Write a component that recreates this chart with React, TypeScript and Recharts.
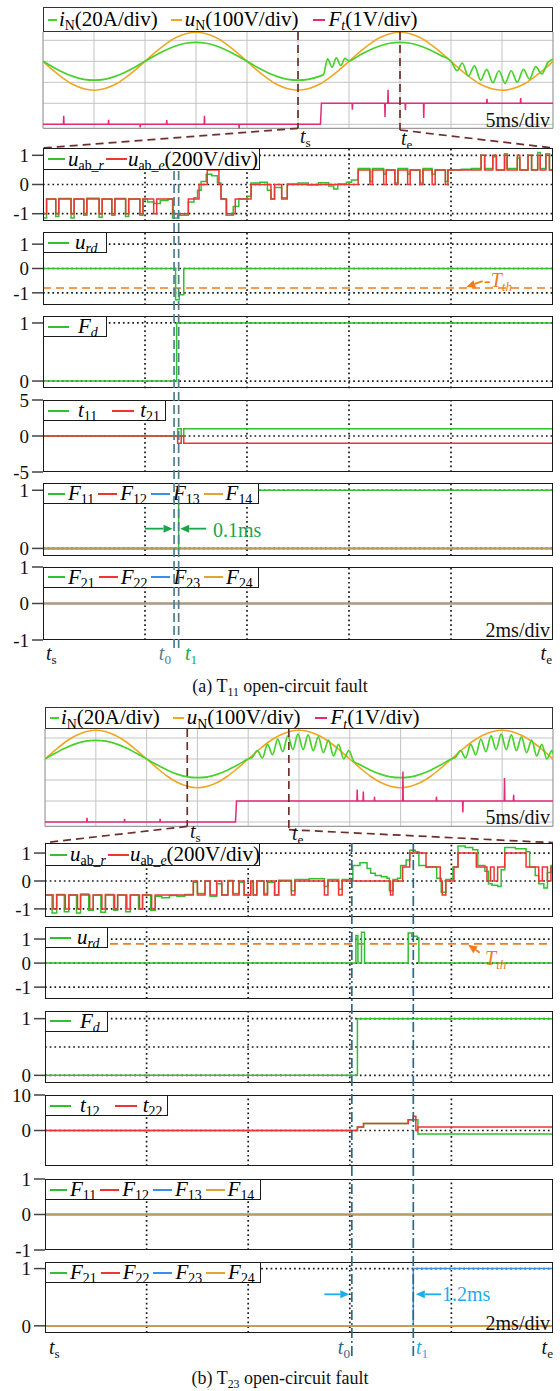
import React from 'react';
import { LineChart, Line, XAxis, YAxis, ReferenceLine } from 'recharts';

type Pt = [number, number];
const W = 560;
const H = 1391;
const RIGHT = 553;
const SERIF = '"Liberation Serif","Times New Roman",serif';

const S_GREEN = '#48d12c';
const S_ORANGE = '#f0a623';
const S_PINK = '#e62a78';
const G = '#30c030';
const R = '#f03434';
const B = '#3a90e8';
const GOLD = '#e0a430';
const BROWN = '#6e2f2a';
const TEAL_A = '#4f7f8e';
const TEAL_B = '#2b6b82';
const ORANGE_TH = '#f07c1c';
const ANN_GREEN = '#18a64a';
const ANN_CYAN = '#1badea';

// ================= (a) oscilloscope (ms, divisions) =================
const scopeA_uN: Pt[] = [[0,0],[1,-0.43],[2,-0.81],[3,-1.12],[4,-1.31],[5,-1.38],[6,-1.31],[7,-1.12],[8,-0.81],[9,-0.43],[10,0],[11,0.43],[12,0.81],[13,1.12],[14,1.31],[15,1.38],[16,1.31],[17,1.12],[18,0.81],[19,0.43],[20,0],[21,-0.43],[22,-0.81],[23,-1.12],[24,-1.31],[25,-1.38],[26,-1.31],[27,-1.12],[28,-0.81],[29,-0.43],[30,0],[31,0.43],[32,0.81],[33,1.12],[34,1.31],[35,1.38],[36,1.31],[37,1.12],[38,0.81],[39,0.43],[40,0],[41,-0.43],[42,-0.81],[43,-1.12],[44,-1.31],[45,-1.38],[46,-1.31],[47,-1.12],[48,-0.81],[49,-0.43],[50,0]];
const scopeA_iN: Pt[] = [[0,0],[1,-0.28],[2,-0.53],[3,-0.73],[4,-0.86],[5,-0.9],[6,-0.86],[7,-0.73],[8,-0.53],[9,-0.28],[10,0],[11,0.28],[12,0.53],[13,0.73],[14,0.86],[15,0.9],[16,0.86],[17,0.73],[18,0.53],[19,0.28],[20,0],[21,-0.28],[22,-0.53],[23,-0.73],[24,-0.86],[25,-0.9],[26,-0.86],[27,-0.73],[27.5,-0.63],[27.9,0.12],[28.35,-0.28],[28.75,0.16],[29.2,-0.2],[29.6,0.14],[30,0.02],[31,0.28],[32,0.53],[33,0.73],[34,0.86],[35,0.9],[36,0.86],[37,0.73],[38,0.53],[39,0.28],[40,0],[40.6,-0.45],[41.1,-0.08],[41.7,-0.7],[42.3,-0.22],[42.9,-0.9],[43.5,-0.38],[44.1,-1.02],[44.7,-0.45],[45.3,-1.05],[45.9,-0.45],[46.5,-1.0],[47.1,-0.38],[47.7,-0.85],[48.3,-0.25],[48.9,-0.6],[49.5,-0.05],[50,0.1]];
const scopeA_Ft: Pt[] = [[0,-3],[2.0,-3],[2.03,-2.6],[2.06,-3],[6.4,-3],[6.43,-2.78],[6.46,-3],[9.5,-3],[9.53,-3.15],[9.56,-3],[12.1,-3],[12.13,-2.8],[12.16,-3],[15.8,-3],[15.83,-2.6],[15.86,-3],[19.2,-3],[19.23,-3.2],[19.26,-3],[27.2,-3],[27.3,-2],[30.3,-2],[30.33,-2.3],[30.36,-2],[33.5,-2],[33.53,-2.65],[33.56,-2],[33.8,-2],[33.83,-1.35],[33.86,-2],[35.5,-2],[35.53,-2.33],[35.56,-2],[37.3,-2],[37.33,-2.7],[37.36,-2],[43.5,-2],[43.53,-1.78],[43.56,-2],[46.8,-2],[46.83,-1.75],[46.86,-2],[50,-2]];
const scopeA_win: Pt = [25, 35];

// ================= (a) detail panels (ms after ts, p.u.) =================
const uabR_a: Pt[] = [[0,-1.15],[0.07,-0.5],[0.25,-1.1],[0.31,-0.48],[0.55,-1.15],[0.61,-0.5],[0.8,-1.05],[0.86,-0.47],[1.1,-1.12],[1.16,-0.5],[1.35,-1.05],[1.41,-0.48],[1.62,-1.1],[1.68,-0.5],[1.9,-1.05],[1.96,-0.5],[2.05,-0.6],[2.17,-0.65],[2.3,-0.55],[2.45,-0.5],[2.54,-1.15],[2.64,-1.05],[2.85,-0.6],[2.96,-0.45],[3.03,-0.2],[3.1,0.1],[3.2,0.35],[3.31,0.3],[3.42,0.05],[3.49,-0.5],[3.59,-1.05],[3.73,-0.75],[3.84,-0.5],[4.01,-0.4],[4.08,0.05],[4.25,0.08],[4.4,-0.2],[4.47,-0.5],[4.54,-0.1],[4.68,-0.45],[4.79,0.02],[5.0,0.05],[5.2,-0.02],[5.4,0.06],[5.6,-0.05],[5.7,-0.15],[5.78,0.02],[5.95,0.08],[6.05,0.15],[6.18,0.55],[6.41,0.1],[6.46,0.55],[6.68,0.35],[6.73,0.5],[6.9,0.05],[6.96,0.55],[7.15,0.35],[7.2,0.5],[7.39,0.05],[7.45,0.55],[7.63,0.35],[7.69,0.5],[7.89,0.1],[7.94,0.5],[8.2,0.52],[8.4,0.55],[8.59,1.0],[8.66,0.55],[8.82,0.95],[8.89,0.5],[9.05,1.05],[9.1,0.55],[9.3,0.9],[9.35,0.5],[9.51,1.0],[9.58,0.5],[9.7,1.1],[9.75,0.55],[9.86,1.05],[9.93,0.5],[10,0.5]];
const uabE_a: Pt[] = [[0,-1],[0.07,-0.5],[0.25,-1],[0.31,-0.5],[0.55,-1],[0.61,-0.5],[0.8,-1],[0.86,-0.5],[1.1,-1],[1.16,-0.5],[1.35,-1],[1.41,-0.5],[1.62,-1],[1.68,-0.5],[1.9,-1],[1.96,-0.5],[2.17,-1],[2.23,-0.5],[2.55,-1],[2.85,-0.5],[3.06,0],[3.22,0.5],[3.45,0],[3.49,-0.5],[3.6,-1],[3.77,-0.5],[4.08,0],[4.47,-0.5],[4.54,0],[4.68,-0.5],[4.79,0],[6.18,0.5],[6.41,0],[6.46,0.5],[6.68,0],[6.73,0.5],[6.9,0],[6.96,0.5],[7.15,0],[7.2,0.5],[7.39,0],[7.45,0.5],[7.63,0],[7.69,0.5],[7.89,0],[7.94,0.5],[8.59,1],[8.66,0.5],[8.82,1],[8.89,0.5],[9.05,1],[9.1,0.5],[9.3,1],[9.35,0.5],[9.51,1],[9.58,0.5],[9.7,1],[9.75,0.5],[9.86,1],[9.93,0.5],[10,0.5]];
const urd_a: Pt[] = [[0,0],[2.6,-1.28],[2.67,-1.08],[2.76,0],[10,0]];
const Tth_a = -0.8;
const Fd_a: Pt[] = [[0,0],[2.62,1],[10,1]];
const t11_a: Pt[] = [[0,0],[2.64,1],[2.71,0],[2.76,1],[10,1]];
const t21_a: Pt[] = [[0,0],[2.64,-1],[2.71,0],[2.76,-1],[10,-1]];
const F11_a: Pt[] = [[0,0],[2.66,1],[10,1]];
const ZERO: Pt[] = [[0,0],[10,0]];
const t0_a = 2.57;
const t1_a = 2.66;

// ================= (b) oscilloscope =================
const scopeB_uN: Pt[] = [[0,0],[1,0.42],[2,0.81],[3,1.11],[4,1.3],[5,1.37],[6,1.3],[7,1.11],[8,0.81],[9,0.42],[10,0],[11,-0.42],[12,-0.81],[13,-1.11],[14,-1.3],[15,-1.37],[16,-1.3],[17,-1.11],[18,-0.81],[19,-0.42],[20,0],[21,0.42],[22,0.81],[23,1.11],[24,1.3],[25,1.37],[26,1.3],[27,1.11],[28,0.81],[29,0.42],[30,0],[31,-0.42],[32,-0.81],[33,-1.11],[34,-1.3],[35,-1.37],[36,-1.3],[37,-1.11],[38,-0.81],[39,-0.42],[40,0],[41,0.42],[42,0.81],[43,1.11],[44,1.3],[45,1.37],[46,1.3],[47,1.11],[48,0.81],[49,0.42],[50,0]];
const scopeB_iN: Pt[] = [[0,0],[1,0.27],[2,0.52],[3,0.72],[4,0.85],[5,0.89],[6,0.85],[7,0.72],[8,0.52],[9,0.27],[10,0],[11,-0.27],[12,-0.52],[13,-0.72],[14,-0.85],[15,-0.89],[16,-0.85],[17,-0.72],[18,-0.52],[19,-0.27],[20,0],[20.4,0.08],[20.9,0.4],[21.4,0.05],[21.9,0.7],[22.4,0.2],[22.9,0.95],[23.4,0.35],[23.9,1.1],[24.4,0.45],[24.9,1.18],[25.4,0.45],[25.9,1.15],[26.4,0.4],[26.9,1.05],[27.4,0.3],[27.9,0.9],[28.4,0.15],[28.9,0.7],[29.4,0.0],[29.9,0.4],[30.4,-0.12],[31,-0.27],[32,-0.52],[33,-0.72],[34,-0.85],[35,-0.89],[36,-0.85],[37,-0.72],[38,-0.52],[39,-0.27],[40,0],[40.4,0.08],[40.9,0.4],[41.4,0.05],[41.9,0.7],[42.4,0.2],[42.9,0.95],[43.4,0.35],[43.9,1.1],[44.4,0.45],[44.9,1.18],[45.4,0.45],[45.9,1.15],[46.4,0.4],[46.9,1.05],[47.4,0.3],[47.9,0.9],[48.4,0.15],[48.9,0.7],[49.4,0.0],[49.9,0.4],[50,0.25]];
const scopeB_Ft: Pt[] = [[0,-3],[4.1,-3],[4.13,-2.8],[4.16,-3],[7.8,-3],[7.83,-2.85],[7.86,-3],[11.3,-3],[11.33,-2.85],[11.36,-3],[18.75,-3],[18.85,-2],[30.7,-2],[30.73,-1.45],[30.76,-2],[31.3,-2],[31.33,-1.55],[31.36,-2],[32.4,-2],[32.43,-1.8],[32.46,-2],[35.2,-2],[35.23,-0.6],[35.26,-2],[38.5,-2],[38.53,-1.8],[38.56,-2],[41.1,-2],[41.13,-2.55],[41.16,-2],[45.2,-2],[45.23,-0.9],[45.26,-2],[46.1,-2],[46.13,-1.7],[46.16,-2],[50,-2]];
const scopeB_win: Pt = [14, 24];

// ================= (b) detail panels =================
const uabR_b: Pt[] = [[0,-0.5],[0.14,-1.15],[0.23,-0.48],[0.38,-1.1],[0.47,-0.5],[0.62,-1.15],[0.7,-0.47],[0.86,-1.05],[0.95,-0.5],[1.1,-1.12],[1.19,-0.48],[1.35,-1.05],[1.43,-0.5],[1.59,-1.1],[1.68,-0.5],[1.84,-1.0],[1.92,-0.5],[2.08,-1.05],[2.17,-0.55],[2.3,-0.6],[2.45,-0.52],[2.6,-0.55],[2.75,-0.48],[2.92,-0.05],[3.0,-0.45],[3.15,0.0],[3.25,-0.55],[3.38,-0.1],[3.48,-0.5],[3.6,0.02],[3.7,-0.45],[3.82,-0.05],[3.92,-0.5],[4.05,-0.05],[4.1,-0.5],[4.17,0.0],[4.31,-0.45],[4.38,-0.05],[4.52,-0.5],[4.6,0.03],[4.85,-0.35],[4.92,0.05],[5.2,0.08],[5.5,-0.2],[5.57,0.05],[5.78,-0.3],[5.85,0.05],[6.06,0.55],[6.2,0.65],[6.34,0.45],[6.41,0.28],[6.5,0.2],[6.62,0.15],[6.73,0.1],[6.78,-0.35],[6.85,0.05],[6.94,0.1],[7.0,0.55],[7.11,0.75],[7.18,1.1],[7.29,1.05],[7.36,0.55],[7.5,0.5],[7.71,0.1],[7.8,-0.4],[7.89,0.05],[8.03,0.5],[8.13,1.25],[8.27,1.2],[8.42,1.12],[8.52,0.55],[8.66,0.35],[8.73,-0.1],[8.8,-0.15],[8.91,-0.2],[8.98,0.4],[9.05,1.2],[9.26,1.15],[9.47,1.05],[9.54,0.5],[9.65,0.2],[9.72,-0.1],[9.82,-0.25],[9.89,0.3],[9.96,0.55],[10,0.55]];
const uabE_b: Pt[] = [[0,-0.5],[0.16,-1],[0.23,-0.5],[0.4,-1],[0.47,-0.5],[0.64,-1],[0.7,-0.5],[0.88,-1],[0.95,-0.5],[1.12,-1],[1.19,-0.5],[1.37,-1],[1.43,-0.5],[1.61,-1],[1.68,-0.5],[1.86,-1],[1.92,-0.5],[2.1,-1],[2.17,-0.5],[2.92,0],[3.0,-0.5],[3.15,0],[3.25,-0.5],[3.38,0],[3.48,-0.5],[3.6,0],[3.7,-0.5],[3.82,0],[3.92,-0.5],[4.05,0],[4.1,-0.5],[4.17,0],[4.31,-0.5],[4.38,0],[4.52,-0.5],[4.6,0],[4.85,-0.5],[4.92,0],[5.5,-0.5],[5.57,0],[5.78,-0.5],[5.85,0],[6.8,-0.5],[6.85,0],[7.04,0.5],[7.18,1],[7.5,0.5],[7.78,0],[7.82,-0.5],[7.89,0],[8.05,0.5],[8.13,1],[8.49,0.5],[8.7,0],[8.77,0.5],[8.84,0],[8.91,0.5],[9.05,1],[9.47,0.5],[9.72,0],[9.79,0.5],[9.89,0],[9.96,0.5],[10,0.5]];
const urd_b: Pt[] = [[0,0],[6.12,1.15],[6.16,0],[6.23,1.28],[6.29,0],[7.15,1.25],[7.22,1.12],[7.33,1.05],[7.36,0],[10,0]];
const Tth_b = 0.8;
const Fd_b: Pt[] = [[0,0],[6.15,1],[10,1]];
const t12_b: Pt[] = [[0,0],[6.15,1],[6.27,2],[7.15,3],[7.34,-1],[10,-1]];
const t22_b: Pt[] = [[0,0],[6.15,1],[6.27,2],[7.15,3],[7.25,4],[7.3,0],[7.34,1],[10,1]];
const F23_b: Pt[] = [[0,0],[7.25,1],[10,1]];
const t0_b = 6.04;
const t1_b = 7.25;

const toData = (pts: Pt[]) => pts.map(([t, v]) => ({ t, v }));

// ---------------- small text helpers ----------------
const Sub = ({ children }: { children: React.ReactNode }) => (
  <span style={{ fontSize: '0.66em', position: 'relative', top: '0.3em', fontStyle: 'normal', lineHeight: 1 }}>{children}</span>
);
const Sw = ({ c, w, ml = 0, mr = 3 }: { c: string; w: number; ml?: number; mr?: number }) => (
  <svg width={w} height={6} style={{ flexShrink: 0, marginLeft: ml, marginRight: mr, display: 'block' }}>
    <line x1={0} y1={3} x2={w} y2={3} stroke={c} strokeWidth={2} />
  </svg>
);
const Txt = ({ x, y, children, color = '#111', size = 20, anchor = 'start' }: any) => {
  const tx = anchor === 'start' ? '0' : anchor === 'end' ? '-100%' : '-50%';
  return (
    <div style={{ position: 'absolute', left: x, top: y, transform: `translate(${tx},-50%)`, color, fontSize: size, fontFamily: SERIF, whiteSpace: 'nowrap', lineHeight: 1.1 }}>
      {children}
    </div>
  );
};

const arrowShape = (color: string) => (props: any) => {
  const { x1, y1, x2, y2 } = props;
  const ang = Math.atan2(y2 - y1, x2 - x1);
  const L = 9;
  const w = 4;
  const bx = x2 - L * Math.cos(ang);
  const by = y2 - L * Math.sin(ang);
  const px = -Math.sin(ang) * w;
  const py = Math.cos(ang) * w;
  return (
    <g>
      <line x1={x1} y1={y1} x2={bx} y2={by} stroke={color} strokeWidth={1.8} />
      <polygon points={`${x2},${y2} ${bx + px},${by + py} ${bx - px},${by - py}`} fill={color} />
    </g>
  );
};

const legendBoxStyle: React.CSSProperties = {
  position: 'absolute', border: '1.6px solid #1a1a1a', boxSizing: 'border-box', background: '#fff',
  display: 'flex', alignItems: 'center', paddingLeft: 3, fontFamily: SERIF, fontSize: 21,
  whiteSpace: 'nowrap', lineHeight: 1,
};

// ---------------- detail panel ----------------
interface Series { pts: Pt[]; color: string; width?: number; opacity?: number }
interface PanelProps {
  boxTop: number; boxBottom: number; left: number;
  domain: [number, number]; ticks: number[]; series: Series[]; hGrid: number[];
  extras?: React.ReactNode[]; legend: React.ReactNode; legendW: number; legendH: number;
}
const VGRID = [2, 4, 6, 8];
const M = 12;
const dotted = { stroke: '#1a1a1a', strokeWidth: 1.7, strokeDasharray: '1.7 3' };

function Panel(p: PanelProps) {
  const h = p.boxBottom - p.boxTop + 2 * M;
  return (
    <div style={{ position: 'absolute', left: 0, top: p.boxTop - M, width: W, height: h }}>
      <LineChart width={W} height={h} margin={{ top: M, bottom: M, left: 0, right: W - RIGHT }}>
        <XAxis type="number" dataKey="t" domain={[0, 10]} hide allowDataOverflow />
        <YAxis type="number" domain={p.domain} ticks={p.ticks} interval={0} width={p.left} axisLine={false}
          tickSize={11} tickMargin={3} tickLine={{ stroke: '#444', strokeWidth: 1.5 }}
          tick={{ fontFamily: SERIF, fontSize: 19, fill: '#111' }} allowDataOverflow />
        {VGRID.map((x) => <ReferenceLine key={'vx' + x} x={x} {...dotted} />)}
        {p.hGrid.map((y) => <ReferenceLine key={'hy' + y} y={y} {...dotted} />)}
        {p.extras}
        {p.series.map((s, i) => (
          <Line key={i} data={toData(s.pts)} dataKey="v" type="stepAfter" stroke={s.color}
            strokeWidth={s.width || 1.5} strokeOpacity={s.opacity ?? 1} dot={false} activeDot={false}
            isAnimationActive={false} />
        ))}
      </LineChart>
      <div style={{ position: 'absolute', left: p.left, top: M, width: RIGHT - p.left, height: p.boxBottom - p.boxTop, border: '1.6px solid #1a1a1a', boxSizing: 'border-box' }} />
      <div style={{ ...legendBoxStyle, left: p.left, top: M, width: p.legendW, height: p.legendH }}>
        {p.legend}
      </div>
    </div>
  );
}

// ---------------- oscilloscope ----------------
interface ScopeProps {
  legendTop: number; plotTop: number; panelTop: number; left: number; center: number;
  frameBottom: number; win: Pt; teEnd: number;
  iN: Pt[]; uN: Pt[]; Ft: Pt[];
}
const DIV = 21;
function Scope(p: ScopeProps) {
  const top = (p.center - p.plotTop) / DIV;
  const bot = (p.center - p.panelTop) / DIV;
  const fb = (p.center - p.frameBottom) / DIV;
  const teB = (p.center - p.teEnd) / DIV;
  const h = p.panelTop - p.plotTop;
  const grey = '#c4c4c4';
  const dash = { stroke: BROWN, strokeWidth: 1.7, strokeDasharray: '8 5' };
  const [ts, te] = p.win;
  return (
    <>
      <div style={{ position: 'absolute', left: 0, top: p.plotTop, width: W, height: h }}>
        <LineChart width={W} height={h} margin={{ top: 0, bottom: 0, left: p.left, right: W - RIGHT }}>
          <XAxis type="number" dataKey="t" domain={[0, 50]} hide allowDataOverflow />
          <YAxis type="number" domain={[bot, top]} hide allowDataOverflow />
          {[5, 10, 15, 20, 25, 30, 35, 40, 45].map((x) => (
            <ReferenceLine key={'gx' + x} segment={[{ x, y: top }, { x, y: fb }]} stroke={grey} strokeWidth={1} />
          ))}
          {[1, 0, -1, -2, -3].map((y) => <ReferenceLine key={'gy' + y} y={y} stroke={grey} strokeWidth={1} />)}
          <ReferenceLine segment={[{ x: 0, y: top }, { x: 0, y: fb }]} stroke="#9a9a9a" strokeWidth={1.2} />
          <ReferenceLine segment={[{ x: 50, y: top }, { x: 50, y: fb }]} stroke="#9a9a9a" strokeWidth={1.2} />
          <ReferenceLine segment={[{ x: 0, y: fb }, { x: 50, y: fb }]} stroke="#9a9a9a" strokeWidth={1.2} />
          <Line data={toData(p.uN)} dataKey="v" type="monotone" stroke={S_ORANGE} strokeWidth={1.6} dot={false} activeDot={false} isAnimationActive={false} />
          <Line data={toData(p.iN)} dataKey="v" type="monotone" stroke={S_GREEN} strokeWidth={1.7} dot={false} activeDot={false} isAnimationActive={false} />
          <Line data={toData(p.Ft)} dataKey="v" type="linear" stroke={S_PINK} strokeWidth={1.5} dot={false} activeDot={false} isAnimationActive={false} />
          <ReferenceLine segment={[{ x: ts, y: top }, { x: ts, y: fb }]} {...dash} />
          <ReferenceLine segment={[{ x: ts, y: fb }, { x: 0, y: bot }]} {...dash} />
          <ReferenceLine segment={[{ x: te, y: top }, { x: te, y: teB }]} {...dash} />
          <ReferenceLine segment={[{ x: te, y: teB }, { x: 50, y: bot }]} {...dash} />
        </LineChart>
      </div>
      <div style={{ ...legendBoxStyle, border: '1.4px solid #333', left: p.left, top: p.legendTop, width: RIGHT - p.left, height: p.plotTop - p.legendTop }}>
        <Sw c={S_GREEN} w={9} ml={1} mr={2} /><span><i>i</i><Sub>N</Sub>(20A/div)</span>
        <Sw c={S_ORANGE} w={11} ml={13} mr={3} /><span><i>u</i><Sub>N</Sub>(100V/div)</span>
        <Sw c={S_PINK} w={12} ml={14} mr={4} /><span><i>F</i><Sub><i>t</i></Sub>(1V/div)</span>
      </div>
    </>
  );
}

// ---------------- vertical dashed t0 / t1 lines across panels ----------------
function VLines({ top, bottom, left, lines }: { top: number; bottom: number; left: number; lines: { x: number; color: string; dash: string }[] }) {
  const h = bottom - top;
  return (
    <div style={{ position: 'absolute', left: 0, top, width: W, height: h, pointerEvents: 'none' }}>
      <LineChart width={W} height={h} margin={{ top: 0, bottom: 0, left, right: W - RIGHT }}>
        <XAxis type="number" dataKey="t" domain={[0, 10]} hide allowDataOverflow />
        <YAxis type="number" domain={[0, 1]} hide allowDataOverflow />
        <Line data={[{ t: 0, v: -1 }, { t: 10, v: -1 }]} dataKey="v" stroke="none" dot={false} activeDot={false} isAnimationActive={false} />
        {lines.map((l, i) => (
          <ReferenceLine key={i} x={l.x} stroke={l.color} strokeWidth={1.7} strokeDasharray={l.dash} />
        ))}
      </LineChart>
    </div>
  );
}

const F4Legend = ({ a, b, c, d }: { a: string; b: string; c: string; d: string }) => (
  <>
    <Sw c={G} w={17} ml={1} mr={3} /><span><i>F</i><Sub>{a}</Sub></span>
    <Sw c={R} w={19} ml={4} mr={3} /><span><i>F</i><Sub>{b}</Sub></span>
    <Sw c={B} w={19} ml={4} mr={3} /><span><i>F</i><Sub>{c}</Sub></span>
    <Sw c={GOLD} w={19} ml={4} mr={3} /><span><i>F</i><Sub>{d}</Sub></span>
  </>
);
const UabLegend = () => (
  <>
    <Sw c={G} w={17} ml={1} mr={3} /><span><i>u</i><Sub>ab_<i>r</i></Sub></span>
    <Sw c={R} w={21} ml={2} mr={1} /><span><i>u</i><Sub>ab_<i>e</i></Sub>(200V/div)</span>
  </>
);

const zeroF = (first: Pt[]): Series[] => [
  { pts: first, color: G },
  { pts: ZERO, color: R },
  { pts: ZERO, color: B },
  { pts: ZERO, color: GOLD, opacity: 0.75, width: 1.7 },
];

export default function App() {
  return (
    <div style={{ position: 'absolute', left: 0, top: 0, width: W, height: H, background: '#fff', overflow: 'hidden', fontFamily: SERIF }}>
      {/* ======================= (a) ======================= */}
      <Scope legendTop={7} plotTop={32} panelTop={148} left={43} center={61.3} frameBottom={128.3} win={scopeA_win} teEnd={130}
        iN={scopeA_iN} uN={scopeA_uN} Ft={scopeA_Ft} />
      <Txt x={550} y={120} anchor="end" size={20}>5ms/div</Txt>
      <Txt x={300} y={136} size={20}><i>t</i><Sub>s</Sub></Txt>
      <Txt x={401} y={138} size={20}><i>t</i><Sub>e</Sub></Txt>

      <Panel boxTop={148} boxBottom={221} left={43} domain={[-1.25, 1.25]} ticks={[-1, 0, 1]} hGrid={[1, 0, -1]}
        series={[{ pts: uabR_a, color: G }, { pts: uabE_a, color: R }]} legendW={217} legendH={22}
        legend={<UabLegend />} />
      <Panel boxTop={232} boxBottom={305} left={43} domain={[-1.5, 1.5]} ticks={[-1, 0, 1]} hGrid={[1, 0, -1]}
        series={[{ pts: urd_a, color: G }]} legendW={64} legendH={21}
        extras={[
          <ReferenceLine key="th" y={Tth_a} stroke={ORANGE_TH} strokeWidth={1.6} strokeDasharray="8 5" />,
          <ReferenceLine key="tha" segment={[{ x: 8.62, y: -0.52 }, { x: 8.3, y: -0.76 }]} shape={arrowShape(ORANGE_TH)} />,
        ]}
        legend={<><Sw c={G} w={21} ml={1} mr={6} /><span><i>u</i><Sub><i>rd</i></Sub></span></>} />
      <Txt x={484} y={280} color={ORANGE_TH} size={20}><i>-T</i><Sub><i>th</i></Sub></Txt>
      <Panel boxTop={316} boxBottom={388.3} left={43} domain={[-0.125, 1.12]} ticks={[0, 1]} hGrid={[1, 0]}
        series={[{ pts: Fd_a, color: G }]} legendW={64} legendH={21}
        legend={<><Sw c={G} w={21} ml={1} mr={9} /><span><i>F</i><Sub><i>d</i></Sub></span></>} />
      <Panel boxTop={400} boxBottom={472} left={43} domain={[-5, 5]} ticks={[-5, 0, 5]} hGrid={[0]}
        series={[{ pts: t11_a, color: G }, { pts: t21_a, color: R }]} legendW={123} legendH={21}
        legend={<><Sw c={G} w={21} ml={1} mr={9} /><span><i>t</i><Sub>11</Sub></span><Sw c={R} w={22} ml={15} mr={6} /><span><i>t</i><Sub>21</Sub></span></>} />
      <Panel boxTop={483.3} boxBottom={556} left={43} domain={[-0.125, 1.125]} ticks={[0, 1]} hGrid={[1, 0]}
        series={zeroF(F11_a)} legendW={216} legendH={21}
        extras={[
          <ReferenceLine key="a1" segment={[{ x: 2.0, y: 0.34 }, { x: t0_a - 0.03, y: 0.34 }]} shape={arrowShape(ANN_GREEN)} />,
          <ReferenceLine key="a2" segment={[{ x: 3.2, y: 0.34 }, { x: t1_a + 0.03, y: 0.34 }]} shape={arrowShape(ANN_GREEN)} />,
        ]}
        legend={<F4Legend a="11" b="12" c="13" d="14" />} />
      <Txt x={213} y={530} color={ANN_GREEN} size={20}>0.1ms</Txt>
      <Panel boxTop={566.5} boxBottom={639.5} left={43} domain={[-1, 1]} ticks={[-1, 0, 1]} hGrid={[]}
        series={zeroF(ZERO)} legendW={216} legendH={21}
        legend={<F4Legend a="21" b="22" c="23" d="24" />} />
      <Txt x={550} y={630} anchor="end" size={20}>2ms/div</Txt>

      <VLines top={170} bottom={648} left={43} lines={[
        { x: t0_a, color: TEAL_A, dash: '9 4' },
        { x: t1_a, color: TEAL_A, dash: '9 4' },
      ]} />
      <Txt x={46} y={653} size={20}><i>t</i><Sub>s</Sub></Txt>
      <Txt x={171} y={653} anchor="end" size={20} color={TEAL_A}><i>t</i><Sub>0</Sub></Txt>
      <Txt x={185} y={653} size={20} color={ANN_GREEN}><i>t</i><Sub>1</Sub></Txt>
      <Txt x={552} y={653} anchor="end" size={20}><i>t</i><Sub>e</Sub></Txt>
      <Txt x={280} y={687} anchor="middle" size={18}>(a) T<Sub>11</Sub> open-circuit fault</Txt>

      {/* ======================= (b) ======================= */}
      <Scope legendTop={706.7} plotTop={729.3} panelTop={843} left={45} center={759.3} frameBottom={826.7} win={scopeB_win} teEnd={830}
        iN={scopeB_iN} uN={scopeB_uN} Ft={scopeB_Ft} />
      <Txt x={550} y={817} anchor="end" size={20}>5ms/div</Txt>
      <Txt x={190} y={831} size={20}><i>t</i><Sub>s</Sub></Txt>
      <Txt x={292} y={833} size={20}><i>t</i><Sub>e</Sub></Txt>

      <Panel boxTop={843} boxBottom={917} left={45} domain={[-1.29, 1.36]} ticks={[-1, 0, 1]} hGrid={[1, 0, -1]}
        series={[{ pts: uabR_b, color: G }, { pts: uabE_b, color: R }]} legendW={215} legendH={23}
        legend={<UabLegend />} />
      <Panel boxTop={927.3} boxBottom={999} left={45} domain={[-1.48, 1.5]} ticks={[-1, 0, 1]} hGrid={[1, 0, -1]}
        series={[{ pts: urd_b, color: G }]} legendW={63} legendH={21}
        extras={[
          <ReferenceLine key="th" y={Tth_b} stroke={ORANGE_TH} strokeWidth={1.6} strokeDasharray="8 5" />,
          <ReferenceLine key="tha" segment={[{ x: 8.56, y: 0.43 }, { x: 8.33, y: 0.76 }]} shape={arrowShape(ORANGE_TH)} />,
        ]}
        legend={<><Sw c={G} w={21} ml={1} mr={6} /><span><i>u</i><Sub><i>rd</i></Sub></span></>} />
      <Txt x={485} y={958} color={ORANGE_TH} size={20}><i>T</i><Sub><i>th</i></Sub></Txt>
      <Panel boxTop={1010.7} boxBottom={1082.7} left={45} domain={[-0.135, 1.135]} ticks={[0, 1]} hGrid={[1, 0.5, 0]}
        series={[{ pts: Fd_b, color: G }]} legendW={63} legendH={21}
        legend={<><Sw c={G} w={21} ml={1} mr={9} /><span><i>F</i><Sub><i>d</i></Sub></span></>} />
      <Panel boxTop={1095} boxBottom={1166} left={45} domain={[-10, 10]} ticks={[0, 10]} hGrid={[0]}
        series={[{ pts: t12_b, color: G }, { pts: t22_b, color: R }]} legendW={123} legendH={21}
        legend={<><Sw c={G} w={21} ml={1} mr={9} /><span><i>t</i><Sub>12</Sub></span><Sw c={R} w={22} ml={15} mr={6} /><span><i>t</i><Sub>22</Sub></span></>} />
      <Panel boxTop={1179} boxBottom={1250} left={45} domain={[-1, 1]} ticks={[-1, 0, 1]} hGrid={[]}
        series={zeroF(ZERO)} legendW={216} legendH={21}
        legend={<F4Legend a="11" b="12" c="13" d="14" />} />
      <Panel boxTop={1262} boxBottom={1332.7} left={45} domain={[-0.12, 1.115]} ticks={[0, 1]} hGrid={[1]}
        series={[{ pts: ZERO, color: G }, { pts: ZERO, color: R }, { pts: F23_b, color: B }, { pts: ZERO, color: GOLD, opacity: 0.85, width: 1.7 }]}
        legendW={216} legendH={21}
        extras={[
          <ReferenceLine key="b1" segment={[{ x: 5.5, y: 0.55 }, { x: t0_b - 0.05, y: 0.55 }]} shape={arrowShape(ANN_CYAN)} />,
          <ReferenceLine key="b2" segment={[{ x: 7.8, y: 0.55 }, { x: t1_b + 0.05, y: 0.55 }]} shape={arrowShape(ANN_CYAN)} />,
        ]}
        legend={<F4Legend a="21" b="22" c="23" d="24" />} />
      <Txt x={442} y={1294} color={ANN_CYAN} size={20}>1.2ms</Txt>
      <Txt x={550} y={1323} anchor="end" size={20}>2ms/div</Txt>

      <VLines top={843} bottom={1356} left={45} lines={[
        { x: t0_b, color: TEAL_B, dash: '10 3 2 3' },
        { x: t1_b, color: TEAL_B, dash: '10 3 2 3' },
      ]} />
      <Txt x={49} y={1347} size={20}><i>t</i><Sub>s</Sub></Txt>
      <Txt x={350} y={1347} anchor="end" size={20} color={TEAL_B}><i>t</i><Sub>0</Sub></Txt>
      <Txt x={416} y={1347} size={20} color={ANN_CYAN}><i>t</i><Sub>1</Sub></Txt>
      <Txt x={553} y={1347} anchor="end" size={20}><i>t</i><Sub>e</Sub></Txt>
      <Txt x={280} y={1379} anchor="middle" size={18}>(b) T<Sub>23</Sub> open-circuit fault</Txt>
    </div>
  );
}
